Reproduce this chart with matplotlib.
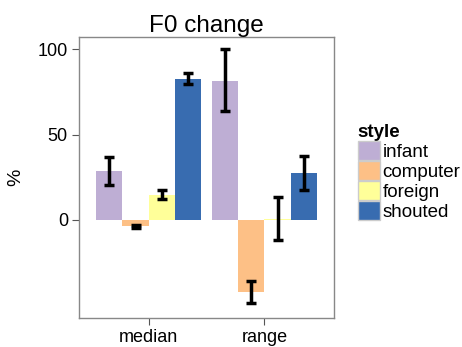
import matplotlib
matplotlib.use("Agg")
import matplotlib.pyplot as plt
from matplotlib.patches import Patch
import numpy as np

plt.rcParams["font.family"] = ["Liberation Sans", "DejaVu Sans"]

measures = ["median", "range"]
styles = ["infant", "computer", "foreign", "shouted"]
colors = ["#BEAED4", "#FDC086", "#FFFF99", "#386CB0"]

# mean, lower and upper error bounds per style (median, range)
means = {
    "infant": [28.7, 81.5],
    "computer": [-3.8, -42.0],
    "foreign": [14.5, 0.7],
    "shouted": [82.5, 27.7],
}
lower = {
    "infant": [20.3, 63.8],
    "computer": [-4.8, -48.5],
    "foreign": [12.0, -12.0],
    "shouted": [79.8, 17.7],
}
upper = {
    "infant": [37.0, 100.0],
    "computer": [-2.8, -35.8],
    "foreign": [17.7, 13.6],
    "shouted": [86.0, 37.6],
}

fig = plt.figure(figsize=(4.62, 3.47), dpi=100)
ax = fig.add_axes([0.171, 0.084, 0.552, 0.809])

x = np.arange(1, len(measures) + 1)
w = 0.9 / len(styles)
for i, s in enumerate(styles):
    xs = x - 0.45 + w / 2 + i * w
    m = np.array(means[s])
    ax.bar(xs, m, width=w, color=colors[i], linewidth=0)
    err = [m - np.array(lower[s]), np.array(upper[s]) - m]
    ax.errorbar(xs, m, yerr=err, fmt="none", ecolor="black",
                elinewidth=2.5, capsize=3.5, capthick=2.5)

ax.set_xlim(0.4, 2.6)
ax.set_ylim(-57.3, 107)
ax.set_xticks(x)
ax.set_xticklabels(measures, fontsize=13)
ax.set_yticks([0, 50, 100])
ax.set_yticklabels(["0", "50", "100"], fontsize=13)
ax.tick_params(length=5, color="#555555", width=0.8, pad=3)
for sp in ax.spines.values():
    sp.set_color("#888888")
    sp.set_linewidth(1.0)
ax.set_ylabel("%", fontsize=14)
ax.yaxis.set_label_coords(-0.215, 0.5)
ax.set_title("F0 change", fontsize=17.5, pad=4)

handles = [Patch(facecolor=c, edgecolor="#cccccc", linewidth=1) for c in colors]
leg = ax.legend(handles, styles, title="style", loc="upper left",
                bbox_to_anchor=(1.093, 0.69), frameon=False, fontsize=13.5,
                handlelength=1.17, handleheight=1.2, labelspacing=0.0,
                handletextpad=0.15, borderaxespad=0, borderpad=0)
leg.get_title().set_fontweight("bold")
leg.get_title().set_fontsize(13.5)
leg._legend_box.align = "left"

fig.savefig("out.png", dpi=100)
